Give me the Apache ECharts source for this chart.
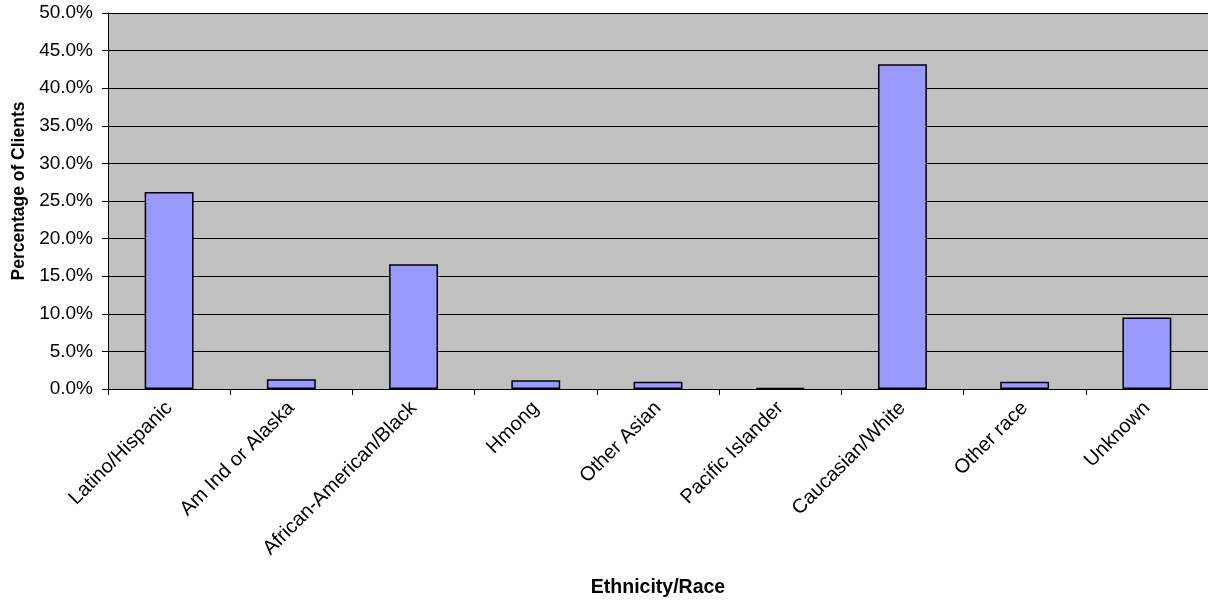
<!DOCTYPE html>
<html>
<head>
<meta charset="utf-8">
<script src="https://cdn.jsdelivr.net/npm/echarts@6/dist/echarts.min.js"></script>
<style>
  html, body { margin: 0; padding: 0; background: #fff; }
  #chart { width: 1208px; height: 601px; }
</style>
</head>
<body>
<div id="chart"></div>
<script>
  // data
  var categories = ['Latino/Hispanic', 'Am Ind or Alaska', 'African-American/Black', 'Hmong',
    'Other Asian', 'Pacific Islander', 'Caucasian/White', 'Other race', 'Unknown'];
  var percents = [26.2, 1.3, 16.6, 1.15, 0.95, 0.1, 43.2, 0.95, 9.5];
  var yTicks = [0, 5, 10, 15, 20, 25, 30, 35, 40, 45, 50];

  var font = 'Liberation Sans, Arial, sans-serif';
  var chart = echarts.init(document.getElementById('chart'));

  var option = {
    animation: false,
    backgroundColor: '#fff',
    grid: {
      left: 108,
      right: 0,
      top: 13,
      bottom: 212,
      outerBoundsMode: 'none',
      containLabel: false,
      show: true,
      backgroundColor: '#C0C0C0',
      borderWidth: 0
    },
    xAxis: {
      type: 'category',
      data: categories,
      boundaryGap: true,
      name: 'Ethnicity/Race',
      nameLocation: 'middle',
      nameGap: 189,
      nameTextStyle: { fontFamily: font, fontSize: 19.5, fontWeight: 'bold', color: '#000' },
      axisLine: { lineStyle: { color: '#000', width: 1 } },
      axisTick: { show: true, alignWithLabel: false, length: 6, lineStyle: { color: '#000' } },
      axisLabel: {
        interval: 0,
        rotate: 45,
        margin: 16,
        fontFamily: font,
        fontSize: 20,
        color: '#000'
      }
    },
    yAxis: {
      type: 'value',
      min: yTicks[0],
      max: yTicks[yTicks.length - 1],
      interval: 5,
      name: 'Percentage of Clients',
      nameLocation: 'middle',
      nameGap: 80,
      nameTextStyle: { fontFamily: font, fontSize: 17.5, fontWeight: 'bold', color: '#000', padding: [0, 0, 0, 20] },
      axisLine: { show: true, lineStyle: { color: '#000', width: 1 } },
      axisTick: { show: true, length: 6, lineStyle: { color: '#000' } },
      splitLine: { show: true, lineStyle: { color: '#000', width: 1 } },
      axisLabel: {
        margin: 15,
        fontFamily: font,
        fontSize: 19,
        color: '#000',
        formatter: function (v) { return v.toFixed(1) + '%'; }
      }
    },
    series: [{
      type: 'bar',
      data: percents,
      barCategoryGap: '60%',
      itemStyle: { color: '#9999FF', borderColor: '#000', borderWidth: 1.5 }
    }]
  };

  chart.setOption(option);
</script>
</body>
</html>
